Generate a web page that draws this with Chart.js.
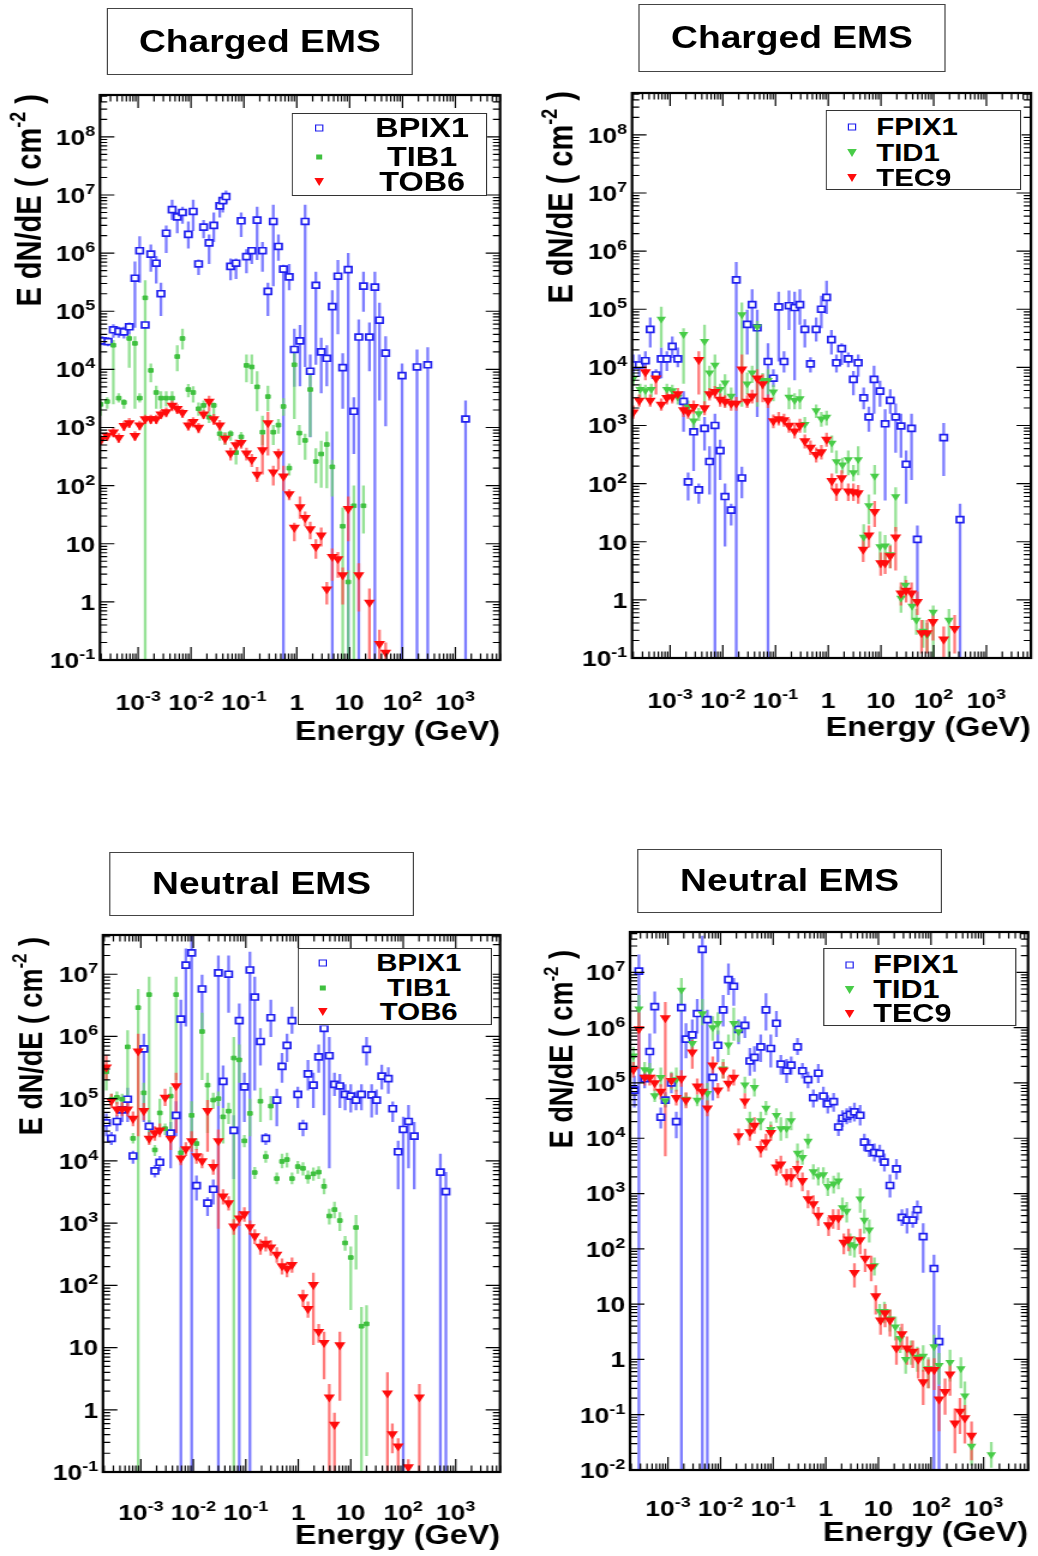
<!DOCTYPE html>
<html><head><meta charset="utf-8">
<script src="https://cdn.jsdelivr.net/npm/chart.js@4.4.0/dist/chart.umd.min.js"></script>
<style>
html,body{margin:0;padding:0;background:#fff;}
body{width:1038px;height:1556px;overflow:hidden;position:relative;font-family:"Liberation Sans",Arial,Helvetica,sans-serif;}
#wrap{position:absolute;left:0;top:0;width:865px;height:1556px;transform:scaleX(1.2);transform-origin:0 0;}
canvas{position:absolute;}
.tbox{position:absolute;border:1.6px solid #444;box-sizing:border-box;background:#fff;font-weight:bold;font-size:31px;display:flex;align-items:center;justify-content:center;color:#000;}
.leg{position:absolute;border:1.6px solid #333;box-sizing:border-box;background:#fff;}
.li{position:absolute;font-weight:bold;color:#000;white-space:nowrap;line-height:1;}
.mk{position:absolute;}
</style>
</head><body>
<div id="wrap">
  <div class="tbox" style="left:89px;top:8px;width:255px;height:67px;">Charged EMS</div>
  <div class="tbox" style="left:532px;top:4px;width:256px;height:68px;">Charged EMS</div>
  <div class="tbox" style="left:91px;top:852px;width:254px;height:64px;">Neutral EMS</div>
  <div class="tbox" style="left:531px;top:849px;width:254px;height:64px;">Neutral EMS</div>
  <canvas id="c1" width="440" height="695" style="left:0;top:75px;width:440px;height:695px"></canvas>
  <canvas id="c2" width="425" height="695" style="left:440px;top:73px;width:425px;height:695px"></canvas>
  <canvas id="c3" width="440" height="641" style="left:0;top:915px;width:440px;height:641px"></canvas>
  <canvas id="c4" width="425" height="644" style="left:440px;top:912px;width:425px;height:644px"></canvas>
  <div id="legends"></div>
</div>
<script>
// ---------------- tick labels & texts ----------------
const xTickVals = [1e-3, 1e-2, 1e-1, 1, 10, 100, 1000];
const yTicksCharged = [0.1, 1, 10, 100, 1e3, 1e4, 1e5, 1e6, 1e7, 1e8];
const yTicksNeutralBarrel = [0.1, 1, 10, 100, 1e3, 1e4, 1e5, 1e6, 1e7];
const yTicksNeutralEndcap = [0.01, 0.1, 1, 10, 100, 1e3, 1e4, 1e5, 1e6, 1e7];
const barrelNames = ['BPIX1', 'TIB1', 'TOB6'];
const endcapNames = ['FPIX1', 'TID1', 'TEC9'];
const yTitleParts = ['E dN/dE ( cm', '-2', ' )'];
const xTitle = 'Energy (GeV)';

// ---------------- Panel 1: Charged EMS, barrel ----------------
const c1_bpix_x = [2.1e-4,2.7e-4,3.4e-4,4.3e-4,5.4e-4,6.8e-4,8.7e-4,1.07e-3,1.36e-3,1.74e-3,2.2e-3,2.7e-3,3.4e-3,4.4e-3,5.5e-3,6.9e-3,8.9e-3,1.1e-2,1.39e-2,1.73e-2,2.2e-2,2.7e-2,3.5e-2,4.0e-2,4.6e-2,5.6e-2,7.1e-2,8.9e-2,0.112,0.141,0.178,0.225,0.285,0.36,0.45,0.56,0.72,0.90,1.15,1.44,1.8,2.3,2.9,3.7,4.7,6.0,7.4,9.4,12,14.9,18.3,23.7,30,36.7,48,98,188,300,1560];
const c1_bpix_y = [3.1e4,3.0e4,4.8e4,4.5e4,4.4e4,5.4e4,3.7e5,1.1e6,5.8e4,9.6e5,6.7e5,2.0e5,2.2e6,5.6e6,4.2e6,5.0e6,2.1e6,5.2e6,6.5e5,2.8e6,1.5e6,3.0e6,6.5e6,8.0e6,9.4e6,5.9e5,6.7e5,3.6e6,8.7e5,1.1e6,3.7e6,1.1e6,2.2e5,3.5e6,1.3e6,5.3e5,3.9e5,2.2e4,3.1e4,3.5e6,9.3e3,2.8e5,2.0e4,1.55e4,1.2e5,4.0e5,1.07e4,5.2e5,1.9e3,3.6e4,2.7e5,3.6e4,2.6e5,7.0e4,1.9e4,7.8e3,1.1e4,1.2e4,1.4e3];
const c1_bpix_lo = [2.6e4,2.5e4,3.5e4,3.5e4,3.4e4,4.0e4,5.2e4,3.1e5,5.0e4,4.8e5,3.0e5,8.3e4,1.0e6,3.7e6,2.2e6,3.2e6,1.2e6,2.4e6,4.2e5,1.8e6,6.5e5,1.55e6,4.1e6,5.0e6,7.2e6,3.4e5,3.6e5,1.9e6,4.5e5,6.5e5,7.6e5,4.8e5,8.3e4,2.7e5,7.4e5,1e-3,2.3e5,5e3,5.1e3,1.1e4,680,1.2e4,3.9e3,5.1e3,1e-3,4.0e4,2.1e3,1e-3,350,1e-3,9.8e4,9.3e3,1e-3,2.9e3,1.05e3,1e-3,1e-3,1e-3,1e-3];
const c1_bpix_hi = [3.7e4,3.6e4,6.0e4,5.4e4,5.4e4,6.4e4,7.2e5,1.95e6,6.5e4,1.4e6,8.9e5,3.1e5,3.0e6,8.3e6,5.1e6,6.3e6,3.5e6,8.3e6,7.8e5,3.7e6,2.1e6,5.0e6,9.1e6,9.8e6,1.2e7,8.1e5,8.1e5,5.0e6,1.17e6,1.26e6,6.3e6,1.55e6,3.1e5,6.8e6,2.1e6,6.3e5,6.5e5,5e4,5.8e4,6.8e6,1.8e4,4.8e5,3.5e4,2.6e4,2.3e5,7.6e5,1.9e4,1.0e6,3.3e3,7.2e4,4.8e5,6.4e4,4.8e5,1.4e5,3.7e4,1.26e4,2.2e4,2.4e4,2.9e3];

const c1_tib_x = [1.95e-4,2.6e-4,3.4e-4,4.3e-4,5.4e-4,6.8e-4,8.7e-4,1.07e-3,1.36e-3,1.74e-3,2.2e-3,2.7e-3,3.4e-3,4.4e-3,5.5e-3,6.9e-3,8.9e-3,1.1e-2,1.39e-2,1.73e-2,2.2e-2,2.7e-2,3.5e-2,4.4e-2,5.6e-2,7.1e-2,8.9e-2,0.112,0.141,0.178,0.225,0.285,0.36,0.45,0.56,0.72,0.90,1.12,1.44,1.8,2.3,2.9,3.7,4.7,7.4,9.4,12,18.3];
const c1_tib_y = [2.5e3,2.8e3,2.6e4,3.2e3,2.7e3,3.4e4,2.8e4,3.2e3,1.7e5,9.6e3,4.0e3,3.2e3,3.2e3,3.2e3,1.66e4,3.4e4,4.5e3,4.0e3,2.1e3,2.4e3,1.5e3,2.4e3,780,670,780,370,690,1.17e4,1.1e4,5.0e3,830,3.4e3,830,1.1e3,2.3e3,200,1.2e4,800,600,4.5e3,260,350,510,210,20,2.2,45,45];
const c1_tib_lo = [1.6e3,2.1e3,2.5e3,2.7e3,2.1e3,1.07e4,2.1e3,2.7e3,1e-3,6.0e3,2.1e3,2.1e3,2.3e3,2.4e3,9.3e3,2.2e4,3.3e3,2.7e3,1.6e3,1.9e3,1.2e3,1.2e3,590,500,590,230,500,6.0e3,5.6e3,1.9e3,500,1.9e3,500,780,1.6e3,150,1.4e3,500,280,690,110,92,90,65,1e-3,1e-3,1e-3,15];
const c1_tib_hi = [2.9e3,3.3e3,3.2e4,3.9e3,3.1e3,4.0e4,3.7e4,3.9e3,3.4e5,1.26e4,5.2e3,4.2e3,4.2e3,4.2e3,2.6e4,5.0e4,5.6e3,5.1e3,2.7e3,2.9e3,1.9e3,2.7e3,990,840,900,500,840,1.8e4,1.8e4,9.3e3,1.6e3,5.2e3,1.1e3,1.4e3,3.2e3,240,2.2e4,1.1e3,780,9.3e3,440,590,850,280,42,3.5,100,100];

const c1_tob_x = [2.0e-4,2.6e-4,3.4e-4,4.3e-4,5.4e-4,6.8e-4,8.7e-4,1.07e-3,1.36e-3,1.74e-3,2.2e-3,2.7e-3,3.4e-3,4.4e-3,5.5e-3,6.9e-3,8.9e-3,1.1e-2,1.39e-2,1.73e-2,2.2e-2,2.7e-2,3.5e-2,4.4e-2,5.6e-2,7.1e-2,8.9e-2,0.112,0.141,0.178,0.225,0.285,0.36,0.45,0.56,0.72,0.90,1.15,1.44,1.8,2.3,2.9,3.7,4.7,6.0,7.4,9.4,14.9,23.7,36.7,48];
const c1_tob_y = [620,720,830,670,1.07e3,1.2e3,720,1.1e3,1.4e3,1.4e3,1.4e3,1.7e3,1.85e3,2.4e3,2.1e3,1.8e3,1.1e3,1.26e3,1.0e3,1.7e3,2.8e3,1.4e3,1.1e3,650,360,500,550,360,280,155,410,1.2e3,170,350,145,72,19,43,28,18,8.9,14,1.66,6.0,5.5,2.9,40,2.9,0.98,0.19,0.135];
const c1_tob_lo = [500,590,680,540,870,980,590,900,1.15e3,1.15e3,1.15e3,1.4e3,1.5e3,1.9e3,1.7e3,1.45e3,880,1.0e3,800,1.4e3,1.9e3,1.1e3,880,510,270,390,430,270,210,115,155,330,100,190,82,56,11,27,20,12,5.5,9,0.9,2.3,2.6,0.9,11,0.68,0.1,0.1,0.1];
const c1_tob_hi = [720,840,980,800,1.28e3,1.45e3,860,1.3e3,1.65e3,1.65e3,1.65e3,2.0e3,2.2e3,2.9e3,2.5e3,2.1e3,1.35e3,1.5e3,1.2e3,2.0e3,3.5e3,1.7e3,1.35e3,800,450,620,680,450,350,210,760,1.85e3,220,430,220,87,23,65,36,24,12,19,2.2,8.3,7.2,3.9,65,4.6,1.7,0.33,0.2];

// ---------------- Panel 2: Charged EMS, endcap ----------------
const c2_fpix_x = [2.0e-4,2.6e-4,3.4e-4,4.2e-4,5.4e-4,6.8e-4,8.7e-4,1.1e-3,1.4e-3,1.8e-3,2.2e-3,2.8e-3,3.5e-3,4.5e-3,5.6e-3,7.1e-3,8.9e-3,1.1e-2,1.44e-2,1.8e-2,2.3e-2,2.9e-2,3.6e-2,4.5e-2,7.2e-2,9.1e-2,0.115,0.145,0.18,0.23,0.29,0.36,0.46,0.59,0.74,0.93,1.15,1.43,1.8,2.4,3.0,3.7,4.7,5.9,7.4,9.6,12,15,19,24,30,38,49,155,316];
const c2_fpix_y = [1.1e4,1.1e4,1.3e4,4.5e4,7.4e3,1.4e4,1.4e4,2.3e4,1.4e4,2.6e3,107,780,78,890,240,1.0e3,370,60,35,3.2e5,125,5.5e4,1.2e5,4.8e4,1.26e4,6.5e3,1.1e5,1.26e4,1.15e5,1.07e5,1.2e5,4.5e4,1.15e4,4.5e4,1.0e5,1.6e5,3.0e4,1.2e4,2.1e4,1.4e4,6.2e3,1.2e4,3.0e3,1.4e3,6.2e3,3.9e3,1.07e3,2.7e3,1.4e3,980,215,890,11,620,24];
const c2_fpix_lo = [6.9e3,6.9e3,8.7e3,2.2e4,5.8e3,6.5e3,8.7e3,1.45e4,1.0e4,780,51,165,45,370,65,1e-3,115,8.3,19,1e-3,56,1.66e4,4.7e4,1.4e3,1e-3,4.6e3,1.26e4,8.2e3,4.4e4,6.0e3,5.4e4,2.2e4,8.2e3,2.8e4,4.7e4,8.3e4,1.66e4,8.2e3,1.1e4,1.0e4,3.3e3,6.9e3,1.9e3,780,1.6e3,2.1e3,51,1.6e3,340,280,45,115,1.0,135,1e-3];
const c2_fpix_hi = [1.66e4,1.66e4,1.9e4,7.2e4,9.3e3,2.2e4,1.9e4,3.4e4,2.2e4,3.9e3,155,1.2e3,100,1.4e3,440,1.6e3,570,100,45,6.5e5,195,9.8e4,2.2e5,9.8e4,2.6e4,9.3e3,2.0e5,1.9e4,2.1e5,2.0e5,2.2e5,6.7e4,1.5e4,7.2e4,1.7e5,3.1e5,4.4e4,1.66e4,2.6e4,1.8e4,8.7e3,1.66e4,4.5e3,2.1e3,1.07e4,5.9e3,1.9e3,4.2e3,2.4e3,1.6e3,370,1.6e3,19,1.1e3,45];

const c2_tid_x = [2.0e-4,2.7e-4,3.4e-4,4.4e-4,6.8e-4,8.7e-4,1.1e-3,1.4e-3,1.8e-3,2.2e-3,2.8e-3,3.5e-3,4.5e-3,5.6e-3,7.1e-3,8.9e-3,1.1e-2,1.44e-2,2.3e-2,2.9e-2,3.6e-2,4.5e-2,5.7e-2,7.2e-2,9.1e-2,0.18,0.23,0.29,0.36,0.59,0.74,0.93,1.17,1.43,1.86,2.4,3.0,3.7,4.7,5.9,7.6,9.6,12,15,19,24,29,39,47,63,75,98,195];
const c2_tid_y = [6.5e3,4.2e3,4.0e3,4.2e3,6.8e4,4.2e3,4.0e3,3.1e3,3.7e4,2.1e3,1.2e3,1.6e3,2.8e4,8.1e3,1.1e4,4.2e3,5.4e3,3.2e3,8.1e4,5.2e3,8.1e3,5.0e4,6.0e3,6.0e3,3.8e3,3.1e3,2.7e3,2.9e3,1.05e3,1.8e3,1.3e3,1.4e3,500,240,210,260,155,260,12,42,135,8.3,8.5,6.0,60,1.07,1.8,0.78,0.45,0.29,0.25,0.62,0.45];
const c2_tid_lo = [4.8e3,3.0e3,2.9e3,3.1e3,2.2e4,3.0e3,2.9e3,2.3e3,5.2e3,1.6e3,830,1.2e3,2.1e3,3.0e3,3.4e3,3.0e3,2.1e3,2.1e3,2.1e3,3.4e3,5.4e3,2.1e3,4.2e3,3.4e3,2.6e3,1.9e3,1.9e3,1.9e3,750,1.35e3,950,1.0e3,340,150,150,140,110,140,7.2,20,65,3.6,4.5,3.5,15,0.6,1.1,0.45,0.25,0.15,0.13,0.1,0.1];
const c2_tid_hi = [8.2e3,5.2e3,5.0e3,5.2e3,1.1e5,5.2e3,5.0e3,3.9e3,4.7e4,2.7e3,1.6e3,2.0e3,5.4e4,1.07e4,1.66e4,5.2e3,7.6e3,4.5e3,1.3e5,8.2e3,1.07e4,6.3e4,8.0e3,9.3e3,5.0e3,4.5e3,3.6e3,4.2e3,1.4e3,2.3e3,1.7e3,1.8e3,670,370,280,370,210,440,20,65,210,15,13,9,87,1.7,2.6,1.2,0.7,0.45,0.4,0.8,0.7];

const c2_tec_x = [2.0e-4,2.6e-4,3.4e-4,4.2e-4,5.4e-4,6.8e-4,8.7e-4,1.1e-3,1.4e-3,1.8e-3,2.2e-3,2.8e-3,3.5e-3,4.5e-3,5.6e-3,7.1e-3,8.9e-3,1.1e-2,1.44e-2,1.8e-2,2.3e-2,2.9e-2,3.6e-2,4.5e-2,5.7e-2,7.2e-2,9.1e-2,0.115,0.145,0.18,0.23,0.29,0.36,0.46,0.59,0.74,0.93,1.17,1.43,1.8,2.4,3.0,3.7,4.6,5.9,7.6,9.9,12,15,19,24,30,38,49,59,75,97,155,250];
const c2_tec_y = [1.7e3,2.7e3,8.3e3,2.7e3,6.5e3,2.3e3,3.0e3,3.1e3,3.5e3,1.85e3,1.7e3,2.1e3,1.35e4,2.0e3,3.5e3,3.8e3,2.8e3,2.6e3,2.4e3,2.4e3,9.3e3,2.6e3,3.2e3,6.5e3,5.2e3,2.7e3,1.2e3,1.3e3,1.25e3,1.0e3,800,1.0e3,540,420,315,350,575,112,74,125,74,72,69,7.4,13,33,4.3,4.3,5.7,12,1.3,1.45,1.3,0.93,0.27,0.27,0.42,0.21,0.32];
const c2_tec_lo = [1.3e3,2.1e3,6.0e3,2.1e3,3.4e3,1.8e3,2.3e3,2.4e3,2.7e3,1.4e3,1.3e3,1.6e3,3.4e3,1.5e3,2.7e3,2.9e3,2.1e3,2.0e3,1.8e3,1.8e3,2.5e3,2.0e3,2.4e3,2.5e3,2.5e3,2.0e3,900,1.0e3,950,750,600,750,400,310,230,260,430,80,50,80,50,50,45,4.5,8,18,2.6,2.8,3.5,3.2,0.8,0.9,0.8,0.55,0.12,0.12,0.2,0.1,0.12];
const c2_tec_hi = [2.2e3,3.4e3,1.07e4,3.4e3,8.2e3,2.9e3,3.8e3,3.9e3,4.4e3,2.4e3,2.2e3,2.7e3,1.9e4,2.6e3,4.4e3,4.8e3,3.6e3,3.3e3,3.1e3,3.1e3,1.66e4,3.3e3,4.1e3,9.3e3,7.6e3,3.4e3,1.55e3,1.7e3,1.6e3,1.3e3,1.05e3,1.3e3,700,550,420,460,750,150,100,170,100,100,95,11,19,50,6.5,6.5,8.5,18,2.0,2.2,2.0,1.4,0.45,0.45,0.65,0.35,0.55];

// ---------------- Panel 3: Neutral EMS, barrel ----------------
const n3_bpix_x = [2.2e-4,2.75e-4,3.5e-4,4.4e-4,5.6e-4,7.1e-4,1.14e-3,1.44e-3,1.85e-3,2.3e-3,3.7e-3,4.7e-3,5.8e-3,7.2e-3,9.3e-3,1.15e-2,1.47e-2,1.87e-2,2.4e-2,3.0e-2,3.7e-2,4.7e-2,5.9e-2,7.5e-2,9.4e-2,0.12,0.148,0.19,0.24,0.30,0.39,0.49,0.61,0.76,0.98,1.23,1.53,1.94,2.45,3.1,3.9,4.9,6.2,7.8,10,12.6,16,20,25,31,39,52,63,80,100,126,162,510,650];
const n3_bpix_y = [4.1e4,2.3e4,4.3e4,6.6e4,9.8e4,1.2e4,6.3e5,3.6e4,6.9e3,9.5e3,2.8e4,5.4e4,1.9e6,1.4e7,2.2e7,4.0e3,5.8e6,2.1e3,3.5e3,1.05e7,1.9e5,1.0e7,3.1e4,1.8e6,1.55e5,1.17e7,4.3e6,8.3e5,2.3e4,2.0e6,9.5e4,3.3e5,7.2e5,1.8e6,1.17e5,3.6e4,2.5e5,1.65e5,4.7e5,1.35e6,4.9e5,1.7e5,1.6e5,1.17e5,1.1e5,9.5e4,1.17e5,6.2e5,1.15e5,9.5e4,2.3e5,2.1e5,6.9e4,1.4e4,3.2e4,4.3e4,2.5e4,6.6e3,3.2e3];
const n3_bpix_lo = [2.5e4,1.8e4,3.0e4,4.2e4,4.2e4,9.0e3,4.2e4,2.5e4,5.4e3,6.9e3,7.6e3,2.5e4,1e-3,1.45e6,1e-3,2.3e3,1.27e6,1.3e3,2.0e3,1e-3,7.1e4,2.4e6,5.1e3,1e-3,4.2e4,1e-3,1.35e5,3.4e5,1.8e4,9.8e5,3.6e4,1.8e5,3.9e5,1.1e6,7.1e4,2.5e4,1.35e5,7.1e4,2.6e5,5.4e4,7.6e3,1.1e5,7.1e4,6.5e4,6.0e4,6.5e4,6.5e4,3.4e5,5.0e4,5.5e4,1.4e5,1.2e5,4.2e4,3.5e3,1e-3,7.6e3,3.5e3,1e-3,1e-3];
const n3_bpix_hi = [5.8e4,2.9e4,5.4e4,8.5e4,1.5e5,1.45e4,1.1e6,4.5e4,8.6e3,1.2e4,4.2e4,9.1e4,3.9e6,2.6e7,4.4e7,5.8e3,9.8e6,2.6e3,5.0e3,2.0e7,3.4e5,2.0e7,5.4e4,3.4e6,2.6e5,2.3e7,9.1e6,1.35e6,2.8e4,3.9e6,1.45e5,5.4e5,1.1e6,3.0e6,1.55e5,4.6e4,4.2e5,2.6e5,7.4e5,2.1e6,9.8e5,2.6e5,2.5e5,1.7e5,1.7e5,1.3e5,1.7e5,9.8e5,1.7e5,1.4e5,3.5e5,3.2e5,9.0e4,2.1e4,5.1e4,7.9e4,4.2e4,1.3e4,6.6e3];

const n3_tib_x = [2.2e-4,2.75e-4,3.5e-4,4.4e-4,5.6e-4,7.1e-4,8.9e-4,1.14e-3,1.44e-3,1.85e-3,2.3e-3,2.9e-3,3.7e-3,4.7e-3,5.8e-3,9.3e-3,1.15e-2,1.47e-2,1.87e-2,2.4e-2,3.0e-2,3.7e-2,4.7e-2,5.9e-2,7.5e-2,9.4e-2,0.12,0.148,0.19,0.24,0.30,0.39,0.49,0.61,0.76,0.98,1.23,1.53,1.94,2.45,3.1,3.9,4.9,6.2,7.8,10,12.6,16,20];
const n3_tib_y = [2.7e5,9.8e4,1.05e5,9.8e4,6.8e5,2.3e4,2.9e6,1.24e5,4.7e6,1.5e4,5.9e4,3.3e4,1.1e5,4.7e6,1.35e4,5.4e4,1.9e4,1.2e6,1.65e5,9.5e4,1.0e5,5.1e4,6.3e4,4.5e5,4.2e5,2.1e4,5.8e4,6.5e3,9.1e4,1.17e4,7.6e4,5.2e3,9.8e3,1.05e4,5.2e3,8.1e3,7.6e3,5.5e3,6.2e3,6.6e3,3.9e3,1.3e3,1.65e3,1.1e3,480,280,850,22,24];
const n3_tib_lo = [1.35e5,7.6e4,8.1e4,7.6e4,9.1e4,1.9e4,1e-3,5.4e4,1.9e4,1.2e4,3.2e4,2.6e4,2.8e4,2.0e5,1.1e4,1.6e4,1.5e4,2.0e5,2.8e4,6.9e4,7.6e4,1.9e4,3.9e4,1e-3,1.8e5,1.65e4,2.5e4,5.1e3,4.2e4,9.3e3,4.5e4,4.2e3,7.6e3,7.8e3,4.2e3,6.2e3,5.8e3,4.3e3,4.8e3,5.1e3,2.9e3,950,1.2e3,750,360,40,180,1e-3,0.18];
const n3_tib_hi = [3.4e5,1.2e5,1.3e5,1.2e5,1.26e6,2.8e4,5.8e6,1.8e5,9.1e6,1.8e4,1.0e5,4.0e4,1.55e5,9.1e6,1.65e4,9.1e4,2.3e4,2.4e6,2.6e5,1.25e5,1.3e5,7.1e4,8.6e4,9.8e5,7.4e5,2.6e4,1.0e5,8.0e3,1.5e5,1.45e4,1.1e5,6.5e3,1.3e4,1.35e4,6.5e3,1.0e4,9.5e3,7.0e3,7.8e3,8.2e3,5.2e3,1.7e3,2.2e3,1.5e3,620,420,1.35e3,45,48];

const n3_tob_x = [2.2e-4,2.75e-4,3.5e-4,4.4e-4,5.6e-4,7.1e-4,8.9e-4,1.14e-3,1.44e-3,1.85e-3,2.3e-3,2.9e-3,3.7e-3,4.7e-3,5.8e-3,7.2e-3,9.3e-3,1.15e-2,1.47e-2,1.87e-2,2.4e-2,3.0e-2,3.7e-2,4.7e-2,5.9e-2,7.5e-2,9.4e-2,0.12,0.148,0.19,0.24,0.30,0.39,0.49,0.61,0.76,1.23,1.53,1.94,2.45,3.1,3.9,4.9,6.2,50,62,80,125,203];
const n3_tob_y = [3.2e5,9.3e4,6.8e4,6.8e4,6.8e4,4.8e4,5.8e5,6.4e4,2.3e4,2.8e4,3.1e4,1.05e5,2.3e4,1.6e5,1.1e4,1.55e4,2.1e4,1.2e4,1.0e4,6.4e4,8.1e3,2.1e4,2.7e3,2.1e3,890,1.2e3,1.4e3,870,620,420,470,410,315,205,185,215,65,42,102,18,12,1.6,0.58,11,1.85,0.41,0.26,0.12,1.6];
const n3_tob_lo = [2.0e5,7.0e4,5.2e4,5.2e4,5.2e4,3.6e4,2.5e4,4.5e4,1.8e4,2.1e4,2.4e4,7.6e4,1.5e4,2.8e4,8.5e3,1.2e4,1.4e4,9.0e3,7.6e3,1.4e4,6.0e3,810,2.0e3,1.6e3,650,900,1.05e3,650,460,310,350,300,230,150,135,160,45,30,11,12,3.1,0.05,0.05,1.4,0.05,0.2,0.1,0.08,0.05];
const n3_tob_hi = [5.0e5,1.2e5,8.8e4,8.8e4,8.8e4,6.2e4,1.1e6,8.5e4,2.9e4,3.6e4,4.0e4,1.45e5,3.0e4,2.6e5,1.4e4,2.0e4,3.0e4,1.55e4,1.3e4,9.5e4,1.05e4,3.2e4,3.5e3,2.7e3,1.15e3,1.55e3,1.8e3,1.1e3,800,550,610,530,410,270,240,280,85,55,160,24,18,2.6,0.9,18,4,0.6,0.35,0.16,2.6];

// ---------------- Panel 4: Neutral EMS, endcap ----------------
const n4_fpix_x = [2.3e-4,2.8e-4,3.6e-4,4.5e-4,5.6e-4,7.3e-4,8.9e-4,1.16e-3,1.44e-3,1.8e-3,2.2e-3,2.9e-3,3.6e-3,4.5e-3,5.6e-3,7.1e-3,8.9e-3,1.12e-2,1.41e-2,1.78e-2,2.2e-2,2.9e-2,3.6e-2,4.4e-2,5.8e-2,7.3e-2,9.0e-2,0.115,0.14,0.18,0.22,0.29,0.36,0.46,0.58,0.72,0.90,1.09,1.41,1.74,2.07,2.5,2.9,3.5,4.5,5.4,6.7,8.4,10.6,13,16.6,22,28,35,45,55,71,114,142];
const n4_fpix_y = [7.4e4,1.05e7,1.2e5,3.7e5,2.4e6,2.4e4,4.9e4,1.0e5,2.0e4,2.3e6,6.2e5,7.4e5,1.8e6,2.6e7,1.4e6,1.26e5,4.8e5,2.1e6,7.4e6,5.6e6,9.3e5,1.1e6,2.5e5,2.9e5,4.5e5,2.1e6,4.2e5,1.2e6,2.2e5,1.66e5,2.1e5,4.5e5,1.66e5,1.15e5,5.4e4,1.5e5,5.8e4,4.2e4,4.6e4,1.6e4,2.3e4,2.5e4,2.7e4,3.0e4,2.6e4,8.5e3,6.7e3,5.5e3,5.3e3,3.7e3,1.4e3,2.8e3,370,330,330,510,166,44,2.1];
const n4_fpix_lo = [3.6e4,1e-3,8.0e4,1.8e5,7.8e5,1.5e4,3.6e4,6.5e4,1.0e4,1e-3,2.8e5,3.2e5,7.8e5,1e-3,1e-3,4.8e4,2.4e5,1.05e6,3.9e6,2.5e6,5.0e5,6.5e5,1.35e5,1.6e5,2.4e5,8.9e5,1.9e5,6.8e5,1.4e5,1.0e5,1.4e5,3.2e5,1.2e5,8.0e4,3.6e4,1.0e5,3.6e4,2.8e4,3.0e4,1.1e4,1.6e4,1.8e4,1.9e4,2.0e4,1.7e4,5.8e3,4.6e3,3.8e3,3.6e3,2.5e3,850,1.8e3,260,190,240,330,37,1e-3,1e-3];
const n4_fpix_hi = [1.35e5,2.1e7,1.8e5,7.8e5,4.5e6,3.6e4,6.8e4,1.5e5,3.0e4,5.1e6,1.2e6,1.4e6,3.3e6,4.6e7,2.1e6,2.1e5,8.9e5,3.9e6,1.45e7,7.9e6,1.4e6,1.6e6,4.3e5,4.6e5,7.5e5,4.2e6,7.5e5,2.0e6,3.2e5,2.7e5,3.0e5,6.5e5,2.3e5,1.6e5,7.6e4,2.2e5,8.5e4,6.0e4,6.6e4,2.2e4,3.2e4,3.5e4,3.8e4,4.4e4,4.0e4,1.2e4,9.5e3,8.0e3,7.6e3,5.3e3,2.2e3,4.2e3,520,540,480,750,290,78,4.2];

const n4_tid_x = [2.2e-4,2.8e-4,3.6e-4,4.5e-4,5.6e-4,7.3e-4,8.9e-4,1.16e-3,1.44e-3,1.8e-3,2.2e-3,2.9e-3,3.6e-3,4.5e-3,5.6e-3,7.1e-3,8.9e-3,1.12e-2,1.41e-2,1.78e-2,2.2e-2,2.9e-2,3.6e-2,4.4e-2,5.8e-2,7.3e-2,9.0e-2,0.115,0.14,0.18,0.22,0.29,0.36,0.46,0.58,0.72,0.90,1.09,1.41,1.74,2.07,2.5,2.9,3.5,4.5,5.4,6.7,8.4,10.6,13,16.6,21,26,33,42,55,71,89,114,142,230,370,440,590,1.4e3];
const n4_tid_y = [3.1e5,2.2e6,1.75e5,1.65e5,5.9e4,1.26e5,4.8e4,1.1e5,1.15e5,4.8e6,5.1e4,5.2e5,4.9e4,1.8e6,6.5e4,1.0e6,1.2e6,1.8e5,4.9e5,1.2e6,8.5e5,9.3e4,2.1e4,8.3e4,2.1e4,3.5e4,1.45e4,2.6e4,1.5e4,1.5e4,2.1e4,5.4e3,4.5e3,8.9e3,2.5e3,2.1e3,2.2e3,1.35e3,1.5e3,1.7e3,560,480,120,112,800,330,220,50,7.4,7.4,5.4,3.9,2.4,1.0,1.4,1.1,1.15,0.68,1.7,0.78,0.89,0.68,0.22,0.027,0.019];
const n4_tid_lo = [2.1e5,7.8e5,1.3e5,1.2e5,4.5e4,8.5e4,3.7e4,7.5e4,7.0e4,1.9e6,3.8e4,3.5e5,3.8e4,1.1e6,4.0e4,5.8e5,7.5e5,1.2e5,3.2e5,5.8e5,5.5e5,6.5e4,1.4e4,5.7e4,1.4e4,2.6e4,1.0e4,1.9e4,9.0e3,1.0e4,1.4e4,3.6e3,3.3e3,6.5e3,1.8e3,1.4e3,1.5e3,900,1.0e3,1.2e3,360,300,75,70,450,190,130,33,4.4,4.5,3.2,2.2,1.3,0.55,0.8,0.6,0.6,0.3,0.7,0.35,0.4,0.3,0.09,0.012,0.011];
const n4_tid_hi = [4.4e5,3.9e6,2.4e5,2.3e5,7.6e4,1.9e5,6.2e4,1.6e5,1.9e5,7.9e6,6.6e4,7.5e5,6.2e4,3.3e6,1.0e5,1.6e6,1.9e6,2.7e5,7.5e5,2.3e6,1.3e6,1.3e5,3.0e4,1.2e5,3.0e4,4.7e4,2.0e4,3.5e4,2.4e4,2.3e4,3.0e4,8.0e3,6.2e3,1.2e4,3.4e3,3.0e3,3.0e3,1.9e3,2.1e3,2.4e3,850,700,190,170,1.25e3,520,340,70,10,11,8,6,3.8,1.6,2.2,1.7,1.8,1.1,2.8,1.3,1.5,1.1,0.4,0.045,0.032];

const n4_tec_x = [2.2e-4,2.8e-4,3.6e-4,4.5e-4,5.6e-4,7.3e-4,8.9e-4,1.16e-3,1.44e-3,1.8e-3,2.2e-3,2.9e-3,3.6e-3,4.5e-3,5.6e-3,7.1e-3,8.9e-3,1.12e-2,1.41e-2,1.78e-2,2.2e-2,2.9e-2,3.6e-2,4.4e-2,5.8e-2,7.3e-2,9.0e-2,0.115,0.14,0.18,0.22,0.29,0.36,0.46,0.58,0.72,1.13,1.38,1.74,2.2,2.7,3.5,4.5,5.6,7.3,8.9,11,13.4,16.6,22,28,35,45,57,71,89,115,142,185,230,285,355,440,590];
const n4_tec_y = [1.75e5,9.5e5,1.26e5,1.26e5,1.0e5,7.0e4,1.5e6,1.1e5,5.4e4,1.2e5,4.9e4,3.6e5,8.7e4,7.0e4,3.5e4,2.1e5,7.4e4,1.7e5,9.8e4,1.26e5,1.1e4,4.7e4,1.3e4,1.7e4,6.5e3,8.5e3,1.26e4,3.0e3,3.4e3,2.0e3,2.0e3,2.8e3,1.7e3,800,650,400,270,360,360,130,150,37,145,67,47,14,5.1,6.9,5.1,1.6,2.9,1.6,1.4,1.0,0.39,0.65,0.65,0.19,0.26,0.54,0.07,0.115,0.087,0.042];
const n4_tec_lo = [1.25e5,1.8e5,9.0e4,9.0e4,7.2e4,5.0e4,4.7e3,8.0e4,3.9e4,8.5e4,3.5e4,1.8e5,6.2e4,5.0e4,2.5e4,1.4e5,5.3e4,1.2e5,7.0e4,9.0e4,7.5e3,3.4e4,9.0e3,1.2e4,4.5e3,6.0e3,9.0e3,2.1e3,2.3e3,1.4e3,1.3e3,1.9e3,1.1e3,540,430,260,170,230,220,80,90,20,80,38,26,6.5,2.8,3.8,2.6,0.8,1.5,0.8,0.7,0.45,0.15,0.3,0.28,0.05,0.1,0.22,0.02,0.045,0.03,0.015];
const n4_tec_hi = [2.4e5,1.9e6,1.7e5,1.7e5,1.4e5,9.5e4,2.9e6,1.5e5,7.5e4,1.7e5,6.8e4,6.0e5,1.2e5,9.7e4,4.8e4,3.0e5,1.0e5,2.4e5,1.35e5,1.75e5,1.5e4,6.5e4,1.8e4,2.4e4,9.0e3,1.2e4,1.75e4,4.2e3,4.8e3,2.8e3,2.9e3,3.9e3,2.4e3,1.15e3,930,570,380,520,520,190,230,55,230,100,75,22,7.8,10,8,2.6,4.4,2.6,2.2,1.6,0.65,1.0,1.05,0.33,0.45,0.85,0.13,0.2,0.15,0.075];

// ---------------- styles ----------------
const FONT = "'Liberation Sans', Arial, Helvetica, 'DejaVu Sans', sans-serif";
const STY = {
  blue:  {pointStyle:'rect', rot:0, r:4.2, bw:1.7, border:'#2020ee', fill:'#ffffff', err:'rgba(75,75,255,0.72)', order:3},
  gsq:   {pointStyle:'rect', rot:0, r:2.6, bw:1, border:'#3fc03f', fill:'#3fc03f', err:'rgba(110,215,110,0.72)', order:2},
  gtri:  {pointStyle:'triangle', rot:180, r:4.6, bw:0, border:'#48cc48', fill:'#48cc48', err:'rgba(110,215,110,0.72)', order:2},
  red:   {pointStyle:'triangle', rot:180, r:5.4, bw:0, border:'#ff0c0c', fill:'#ff0c0c', err:'rgba(255,70,70,0.72)', order:1}
};

function powParts(v) {
  const k = Math.round(Math.log10(v));
  if (k === 0) return ['1', ''];
  if (k === 1) return ['10', ''];
  return ['10', String(k)];
}

const errorBars = {
  id: 'errorBars',
  beforeDatasetsDraw(chart) {
    const {ctx, chartArea: a, scales: {x, y}} = chart;
    ctx.save();
    ctx.beginPath(); ctx.rect(a.left, a.top, a.right - a.left, a.bottom - a.top); ctx.clip();
    const dss = chart.data.datasets.slice().sort((p, q) => q.order - p.order);
    dss.forEach(ds => {
      if (!ds.errLo) return;
      ctx.strokeStyle = ds.errColor; ctx.lineWidth = 2.3; ctx.lineCap = 'butt';
      ds.data.forEach((p, i) => {
        const lo = ds.errLo[i], hi = ds.errHi[i];
        if (lo == null || hi == null) return;
        const px = x.getPixelForValue(p.x);
        const y1 = Math.min(y.getPixelForValue(lo), a.bottom + 5);
        const y2 = Math.max(y.getPixelForValue(hi), a.top - 5);
        ctx.beginPath(); ctx.moveTo(px, y1); ctx.lineTo(px, y2); ctx.stroke();
      });
    });
    ctx.restore();
  }
};

// frame with ROOT-style inward ticks on all four sides, power-of-ten labels, y title
const frame = {
  id: 'frame',
  afterDraw(chart) {
    const {ctx, chartArea: a, scales: {x, y}} = chart;
    const P = chart.options.plugins.frame;
    ctx.save();
    ctx.strokeStyle = '#000';
    ctx.lineWidth = 1.2;
    const each = (sc, cb) => {
      const lo = Math.floor(Math.log10(sc.min)), hi = Math.ceil(Math.log10(sc.max));
      for (let d = lo; d <= hi; d++) for (let m = 1; m <= 9; m++) {
        const v = m * Math.pow(10, d);
        if (v < sc.min || v > sc.max) continue;
        cb(sc.getPixelForValue(v), m === 1);
      }
    };
    ctx.beginPath();
    each(x, (px, major) => { const L = major ? 13 : 6.5;
      ctx.moveTo(px, a.bottom); ctx.lineTo(px, a.bottom - L);
      ctx.moveTo(px, a.top); ctx.lineTo(px, a.top + L); });
    each(y, (py, major) => { const L = major ? 12 : 6;
      ctx.moveTo(a.left, py); ctx.lineTo(a.left + L, py);
      ctx.moveTo(a.right, py); ctx.lineTo(a.right - L, py); });
    ctx.stroke();
    ctx.lineWidth = 2.2;
    ctx.strokeRect(a.left, a.top, a.right - a.left, a.bottom - a.top);

    // tick labels: "10" with raised exponent
    ctx.fillStyle = '#000';
    ctx.textAlign = 'left'; ctx.textBaseline = 'alphabetic';
    const big = 'bold 22px ' + FONT, small = 'bold 15px ' + FONT;
    const draw = (v, px, base, align) => {
      const [b, e] = powParts(v);
      ctx.font = big; const wb = ctx.measureText(b).width;
      ctx.font = small; const we = e ? ctx.measureText(e).width : 0;
      const w = wb + we;
      const left = align === 'center' ? px - w / 2 : px - w;
      ctx.font = big; ctx.fillText(b, left, base);
      if (e) { ctx.font = small; ctx.fillText(e, left + wb, base - 9); }
    };
    x.ticks.forEach(t => draw(t.value, x.getPixelForValue(t.value), a.bottom + P.xBase, 'center'));
    y.ticks.forEach(t => draw(t.value, a.left - 4, y.getPixelForValue(t.value) + 7.9, 'right'));

    // rotated y-axis title, end-aligned at the top of the frame, with a real superscript
    const sz = P.yTitleSize;
    const fMain = 'bold ' + sz + 'px ' + FONT, fSup = 'bold ' + Math.round(sz * 0.62) + 'px ' + FONT;
    const fonts = [fMain, fSup, fMain], raise = [0, -0.36 * sz, 0];
    const widths = yTitleParts.map((s, i) => { ctx.font = fonts[i]; return ctx.measureText(s).width; });
    const W = widths.reduce((p, q) => p + q, 0);
    ctx.translate(P.yTitleX, a.top + P.yTitleEnd);
    ctx.rotate(-Math.PI / 2);
    ctx.textBaseline = 'middle';
    let u = -W;
    yTitleParts.forEach((s, i) => { ctx.font = fonts[i]; ctx.fillText(s, u, raise[i]); u += widths[i]; });
    ctx.restore();
  }
};

function series(label, xs, ys, lo, hi, st) {
  return {
    label, data: xs.map((xv, i) => ({x: xv, y: ys[i]})),
    errLo: lo, errHi: hi, errColor: st.err,
    pointStyle: st.pointStyle, pointRotation: st.rot, pointRadius: st.r,
    pointBorderWidth: st.bw, pointBorderColor: st.border, pointBackgroundColor: st.fill,
    pointHoverRadius: st.r, showLine: false, order: st.order
  };
}

function build(id, L, yTicks, yMin, yMax, datasets) {
  new Chart(document.getElementById(id), {
    type: 'scatter',
    data: {datasets},
    options: {
      responsive: false, animation: false, devicePixelRatio: 1,
      layout: {padding: {left: 0, right: L.padR, top: L.padT, bottom: 0}},
      plugins: {legend: {display: false}, tooltip: {enabled: false},
                frame: {xBase: L.xBase, yTitleX: L.yTitleX, yTitleEnd: L.yTitleEnd, yTitleSize: L.yTitleSize}},
      events: [],
      scales: {
        x: {
          type: 'logarithmic', position: 'bottom', min: 1.9e-4, max: 7.0e3,
          grid: {display: false, drawTicks: false}, border: {display: false},
          afterBuildTicks: sc => { sc.ticks = xTickVals.map(v => ({value: v})); },
          afterFit: sc => { sc.height = L.xH; },
          ticks: {display: false},
          title: {display: true, text: xTitle, align: 'end', color: '#000',
                  font: {family: FONT, weight: 'bold', size: 27}, padding: {top: 0, bottom: L.xTitlePad}}
        },
        y: {
          type: 'logarithmic', position: 'left', min: yMin, max: yMax,
          grid: {display: false, drawTicks: false}, border: {display: false},
          afterBuildTicks: sc => { sc.ticks = yTicks.map(v => ({value: v})); },
          afterFit: sc => { sc.width = L.yW; },
          ticks: {display: false},
          title: {display: false}
        }
      }
    },
    plugins: [errorBars, frame]
  });
}

Chart.defaults.font.family = FONT;

build('c1', {padR: 23.3, padT: 20, xH: 110, yW: 83.3, xBase: 50, xTitlePad: 21.5, yTitleX: 26.3, yTitleEnd: -1, yTitleSize: 29},
  yTicksCharged, 0.1, 5.25e8, [
    series(barrelNames[0], c1_bpix_x, c1_bpix_y, c1_bpix_lo, c1_bpix_hi, STY.blue),
    series(barrelNames[1], c1_tib_x, c1_tib_y, c1_tib_lo, c1_tib_hi, STY.gsq),
    series(barrelNames[2], c1_tob_x, c1_tob_y, c1_tob_lo, c1_tob_hi, STY.red)
  ]);
build('c2', {padR: 5, padT: 20, xH: 110, yW: 86.7, xBase: 50, xTitlePad: 23, yTitleX: 29.2, yTitleEnd: -2, yTitleSize: 29},
  yTicksCharged, 0.1, 5.25e8, [
    series(endcapNames[0], c2_fpix_x, c2_fpix_y, c2_fpix_lo, c2_fpix_hi, STY.blue),
    series(endcapNames[1], c2_tid_x, c2_tid_y, c2_tid_lo, c2_tid_hi, STY.gtri),
    series(endcapNames[2], c2_tec_x, c2_tec_y, c2_tec_lo, c2_tec_hi, STY.red)
  ]);
build('c3', {padR: 23.3, padT: 20, xH: 84, yW: 85.8, xBase: 48, xTitlePad: 3, yTitleX: 27.1, yTitleEnd: 2, yTitleSize: 27},
  yTicksNeutralBarrel, 0.1, 4.27e7, [
    series(barrelNames[0], n3_bpix_x, n3_bpix_y, n3_bpix_lo, n3_bpix_hi, STY.blue),
    series(barrelNames[1], n3_tib_x, n3_tib_y, n3_tib_lo, n3_tib_hi, STY.gsq),
    series(barrelNames[2], n3_tob_x, n3_tob_y, n3_tob_lo, n3_tob_hi, STY.red)
  ]);
build('c4', {padR: 8.3, padT: 20, xH: 86, yW: 85, xBase: 46, xTitlePad: 6, yTitleX: 30, yTitleEnd: 18, yTitleSize: 27},
  yTicksNeutralEndcap, 0.01, 5.37e7, [
    series(endcapNames[0], n4_fpix_x, n4_fpix_y, n4_fpix_lo, n4_fpix_hi, STY.blue),
    series(endcapNames[1], n4_tid_x, n4_tid_y, n4_tid_lo, n4_tid_hi, STY.gtri),
    series(endcapNames[2], n4_tec_x, n4_tec_y, n4_tec_lo, n4_tec_hi, STY.red)
  ]);

// ---------------- legends (HTML) ----------------
function marker(kind) {
  if (kind === 'blue') return '<div style="width:5px;height:5px;border:1.6px solid #2020ee;background:#fff;"></div>';
  if (kind === 'gsq') return '<div style="width:5px;height:5px;background:#3fc03f;"></div>';
  const c = kind === 'red' ? '#ff0c0c' : '#48cc48';
  return '<div style="width:0;height:0;border-left:4.5px solid transparent;border-right:4.5px solid transparent;border-top:8px solid ' + c + ';"></div>';
}
function legend(box, names, kinds, rows, markX, textX, center, size) {
  let h = '<div class="leg" style="left:' + box[0] + 'px;top:' + box[1] + 'px;width:' + box[2] + 'px;height:' + box[3] + 'px;">';
  names.forEach((n, i) => {
    const cy = rows[i];
    h += '<div class="mk" style="left:' + markX + 'px;top:' + cy + 'px;transform:translate(-50%,-50%);">' + marker(kinds[i]) + '</div>';
    const tx = center ? 'left:' + textX + 'px;transform:translate(-50%,-50%);' : 'left:' + textX + 'px;transform:translate(0,-50%);';
    h += '<div class="li" style="top:' + cy + 'px;' + tx + 'font-size:' + size + 'px;">' + n + '</div>';
  });
  return h + '</div>';
}
document.getElementById('legends').innerHTML =
  legend([243.3, 113, 162.5, 83], barrelNames, ['blue','gsq','red'], [14, 43, 68], 21.7, 107.5, true, 27) +
  legend([688.3, 110, 162.5, 80], endcapNames, ['blue','gtri','red'], [16, 42, 67], 20.9, 40.9, false, 24.5) +
  legend([248.3, 948, 161.7, 77], barrelNames, ['blue','gsq','red'], [14, 39, 63], 20, 99.7, true, 24.5) +
  legend([685.8, 948, 161.7, 78], endcapNames, ['blue','gtri','red'], [16, 41, 65], 20.9, 40.9, false, 25.5);
</script>
</body></html>
